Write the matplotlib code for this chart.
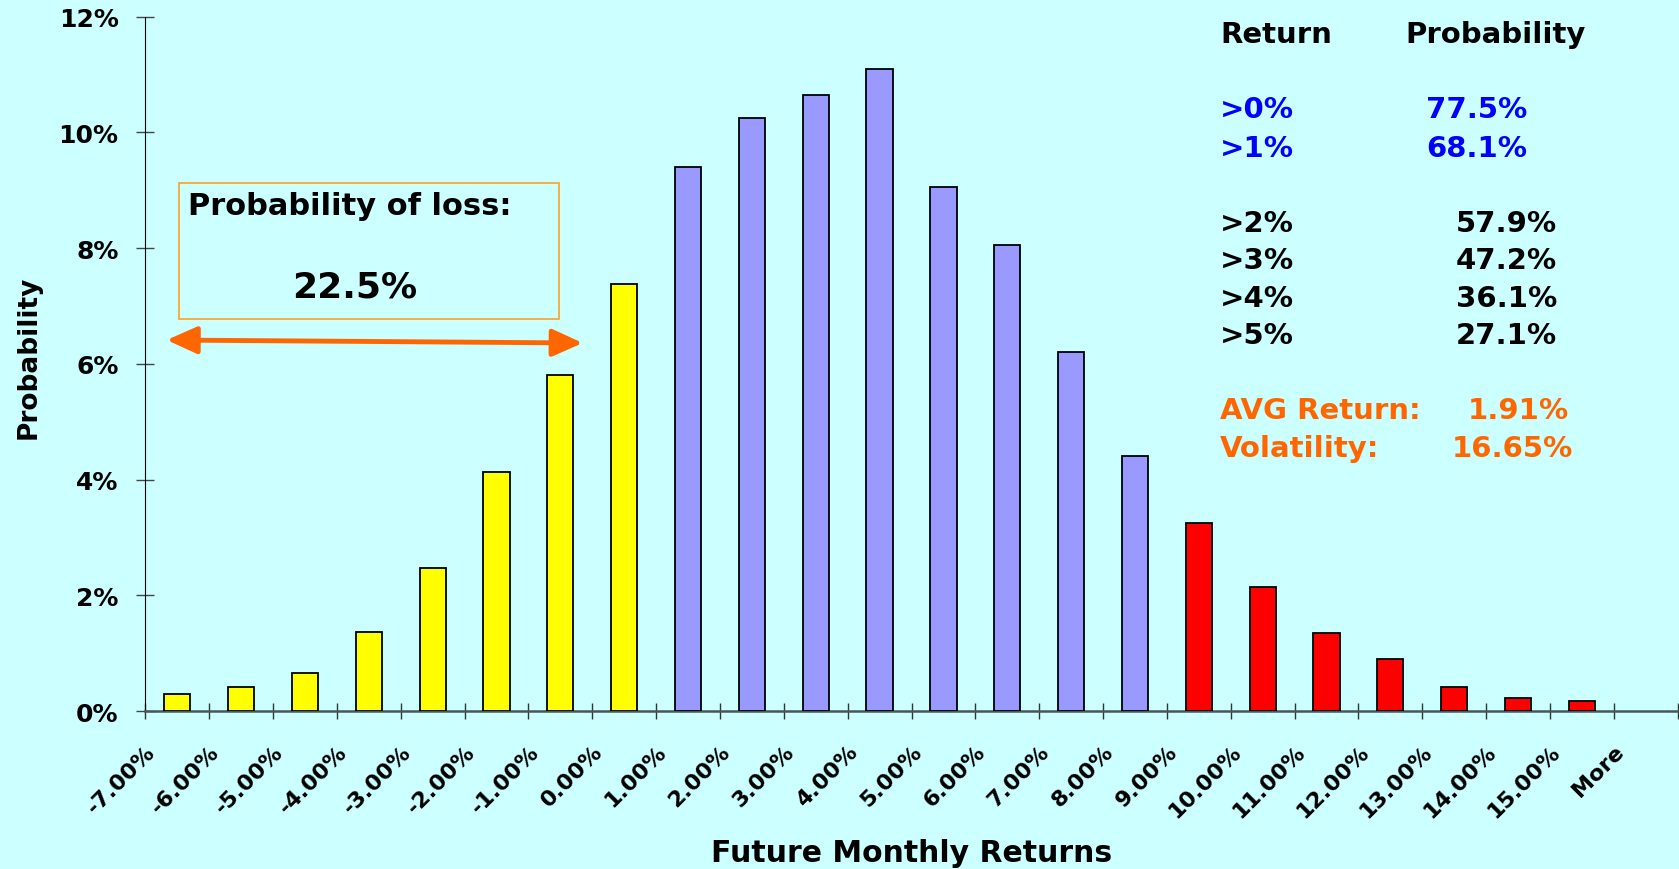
#!/usr/bin/env python3
"""Histogram of simulated future monthly returns with summary table."""

import matplotlib

matplotlib.use("Agg")
import matplotlib.pyplot as plt
from matplotlib.patches import FancyArrowPatch, Rectangle

W, H = 1679, 870
BG = "#CCFFFF"
YELLOW = "#FFFF00"
LAVENDER = "#9999FF"
RED = "#FF0000"
ORANGE = "#FF6600"
BLUE = "#0000FF"

bin_labels = ["-7.00%", "-6.00%", "-5.00%", "-4.00%", "-3.00%", "-2.00%", "-1.00%",
              "0.00%", "1.00%", "2.00%", "3.00%", "4.00%", "5.00%", "6.00%", "7.00%",
              "8.00%", "9.00%", "10.00%", "11.00%", "12.00%", "13.00%", "14.00%",
              "15.00%", "More"]
# probability (%) per bin, split by colour group
loss_probs = [0.30, 0.41, 0.65, 1.36, 2.47, 4.13, 5.80, 7.38]
core_probs = [9.40, 10.25, 10.65, 11.10, 9.05, 8.05, 6.20, 4.40]
tail_probs = [3.25, 2.15, 1.35, 0.90, 0.42, 0.22, 0.17]

y_ticks = [0, 2, 4, 6, 8, 10, 12]

returns_hi = [">0%", ">1%"]
probs_hi = ["77.5%", "68.1%"]
returns_lo = [">2%", ">3%", ">4%", ">5%"]
probs_lo = ["57.9%", "47.2%", "36.1%", "27.1%"]
avg_return = "1.91%"
volatility = "16.65%"
loss_total = "22.5%"


def fx(x):
    return x / W


def fy(y):
    return 1 - y / H


plt.rcParams["font.family"] = ["DejaVu Sans"]
plt.rcParams["font.weight"] = "bold"

fig = plt.figure(figsize=(W / 100, H / 100), dpi=100, facecolor=BG)
ax = fig.add_axes([fx(145.3), fy(712), (1677.7 - 145.3) / W, (712 - 17.7) / H])
ax.set_facecolor(BG)

start = 0
for vals, color in [(loss_probs, YELLOW), (core_probs, LAVENDER), (tail_probs, RED)]:
    xs = [start + i + 0.5 for i in range(len(vals))]
    ax.bar(xs, vals, width=0.41, color=color, edgecolor="black", linewidth=1.3, zorder=3)
    start += len(vals)

ax.set_xlim(0, len(bin_labels))
ax.set_ylim(0, 12)
ax.set_xticks(range(len(bin_labels) + 1))
ax.set_xticklabels(bin_labels + [""], rotation=45, ha="right", va="top",
                   rotation_mode="anchor", fontsize=16, fontweight="bold")
ax.set_yticks(y_ticks)
ax.set_yticklabels([f"{v}%" for v in y_ticks], fontsize=18, fontweight="bold")
ax.tick_params(axis="x", direction="inout", length=11, width=1.0, color="#333333", pad=16)
ax.tick_params(axis="y", direction="inout", length=13.5, width=1.0, color="#444444", pad=12.5)

for side in ("top", "right"):
    ax.spines[side].set_visible(False)
ax.spines["left"].set_color("black")
ax.spines["left"].set_linewidth(0.8)
ax.spines["bottom"].set_color("#4A5555")
ax.spines["bottom"].set_linewidth(1.8)

fig.text(fx(911.5), fy(862), "Future Monthly Returns", ha="center", va="baseline",
         fontsize=21.5, fontweight="bold")
fig.text(fx(29), fy(357.5), "Probability", ha="center", va="center", rotation=90,
         fontsize=19, fontweight="bold")

# probability of loss call-out
fig.add_artist(Rectangle((fx(179.3), fy(320)), (558.7 - 179.3) / W, (320 - 184) / H,
                         transform=fig.transFigure, facecolor="none",
                         edgecolor="#FFA020", linewidth=1.2))
fig.text(fx(188), fy(215), "Probability of loss:", ha="left", va="baseline",
         fontsize=22, fontweight="bold")
fig.text(fx(355), fy(297), loss_total, ha="center", va="baseline",
         fontsize=26, fontweight="bold")
fig.add_artist(FancyArrowPatch((fx(166.7), fy(341)), (fx(582.7), fy(344)),
                               transform=fig.transFigure,
                               arrowstyle="<|-|>,head_length=1.0,head_width=0.45",
                               mutation_scale=18.5, color=ORANGE, linewidth=3.5,
                               shrinkA=0, shrinkB=0))

# summary table
tsize = 21
fig.text(fx(1220), fy(43.3), "Return", ha="left", va="baseline", fontsize=tsize)
fig.text(fx(1405), fy(43.3), "Probability", ha="left", va="baseline", fontsize=tsize)
for r, p, y in zip(returns_hi, probs_hi, [118.3, 156.7]):
    fig.text(fx(1220), fy(y), r, ha="left", va="baseline", fontsize=tsize, color=BLUE)
    fig.text(fx(1426.4), fy(y), p, ha="left", va="baseline", fontsize=tsize, color=BLUE)
for r, p, y in zip(returns_lo, probs_lo, [231.7, 269.3, 306.7, 344.3]):
    fig.text(fx(1220), fy(y), r, ha="left", va="baseline", fontsize=tsize)
    fig.text(fx(1455.7), fy(y), p, ha="left", va="baseline", fontsize=tsize)
fig.text(fx(1220), fy(419.3), "AVG Return:", ha="left", va="baseline", fontsize=tsize, color=ORANGE)
fig.text(fx(1569), fy(419.3), avg_return, ha="right", va="baseline", fontsize=tsize, color=ORANGE)
fig.text(fx(1220), fy(456.7), "Volatility:", ha="left", va="baseline", fontsize=tsize, color=ORANGE)
fig.text(fx(1573), fy(456.7), volatility, ha="right", va="baseline", fontsize=tsize, color=ORANGE)

fig.savefig("out.png", dpi=100, facecolor=BG)
